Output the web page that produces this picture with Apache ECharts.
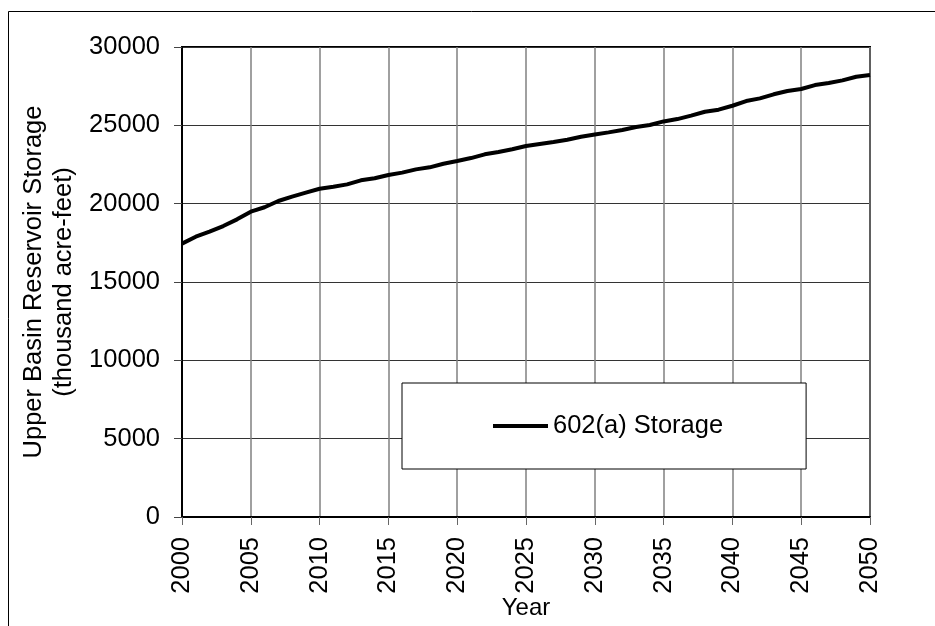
<!doctype html>
<html>
<head>
<meta charset="UTF-8">
<title>Upper Basin Reservoir Storage</title>
<script src="https://cdn.jsdelivr.net/npm/echarts@6/dist/echarts.min.js"></script>
<style>
  html, body { margin: 0; padding: 0; background: #fff; }
  #main { width: 935px; height: 626px; }
</style>
</head>
<body>
<div id="main"></div>
<script>
// years and storage (thousand acre-feet)
var years = [];
for (var y = 2000; y <= 2050; y++) years.push(y);
var storage = [
  17450, 17890, 18210, 18570, 19000, 19490, 19770, 20170, 20450, 20700,
  20950, 21080, 21230, 21490, 21620, 21830, 21980, 22190, 22320, 22550,
  22720, 22910, 23150, 23300, 23470, 23680, 23810, 23940, 24080, 24270,
  24410, 24550, 24700, 24890, 25020, 25250, 25400, 25620, 25870, 26000,
  26250, 26550, 26720, 26980, 27190, 27320, 27570, 27700, 27870, 28100,
  28210
];
var seriesName = '602(a) Storage';

var font = 'Liberation Sans, Arial, sans-serif';
var fs = 25.5;
var myChart = echarts.init(document.getElementById('main'));

var option = {
    backgroundColor: '#fff',
    animation: false,
    textStyle: { fontFamily: font, color: '#000' },
    graphic: [
        { type: 'line', shape: { x1: 8.5, y1: 11.5, x2: 935, y2: 11.5 }, style: { stroke: '#000', lineWidth: 1 } },
        { type: 'line', shape: { x1: 8.5, y1: 11.5, x2: 8.5, y2: 626 }, style: { stroke: '#000', lineWidth: 1 } }
    ],
    grid: {
        left: 182, right: 65, top: 47, bottom: 109,
        containLabel: false,
        outerBoundsMode: 'none',
        show: true, borderColor: '#000', borderWidth: 2, backgroundColor: 'transparent'
    },
    legend: {
        data: [seriesName],
        left: 402, top: 383,
        padding: [30, 83, 30, 91],
        backgroundColor: '#fff',
        borderColor: '#000',
        borderWidth: 1,
        icon: 'rect',
        itemWidth: 55,
        itemHeight: 4,
        itemGap: 5,
        textStyle: { fontFamily: font, fontSize: fs, color: '#000' }
    },
    xAxis: {
        type: 'value',
        min: 2000, max: 2050, interval: 5,
        name: 'Year',
        nameLocation: 'middle',
        nameGap: 79,
        nameMoveOverlap: false,
        nameTextStyle: { fontFamily: font, fontSize: 24, color: '#000' },
        axisLine: { lineStyle: { color: '#000', width: 2 } },
        axisTick: { length: 8, lineStyle: { color: '#666' } },
        axisLabel: { rotate: 90, margin: 20, fontFamily: font, fontSize: fs, color: '#000',
            formatter: function (v) { return String(v); } },
        splitLine: { show: true, lineStyle: { color: '#808080', width: 1.5 } }
    },
    yAxis: {
        type: 'value',
        min: 0, max: 30000, interval: 5000,
        name: 'Upper Basin Reservoir Storage\n(thousand acre-feet)',
        nameLocation: 'middle',
        nameGap: 103,
        nameRotate: 90,
        nameMoveOverlap: false,
        nameTextStyle: { fontFamily: font, fontSize: fs, color: '#000', lineHeight: 30 },
        axisLine: { show: true, lineStyle: { color: '#000', width: 2 } },
        axisTick: { show: true, length: 8, lineStyle: { color: '#444' } },
        axisLabel: { margin: 22, fontFamily: font, fontSize: fs, color: '#000',
            formatter: function (v) { return String(v); } },
        splitLine: { show: true, lineStyle: { color: '#333', width: 1 } }
    },
    series: [{
        name: seriesName,
        type: 'line',
        data: years.map(function (yr, i) { return [yr, storage[i]]; }),
        showSymbol: false,
        symbol: 'none',
        lineStyle: { color: '#000', width: 4 },
        itemStyle: { color: '#000' },
        z: 3
    }]
};
myChart.setOption(option);
</script>
</body>
</html>
